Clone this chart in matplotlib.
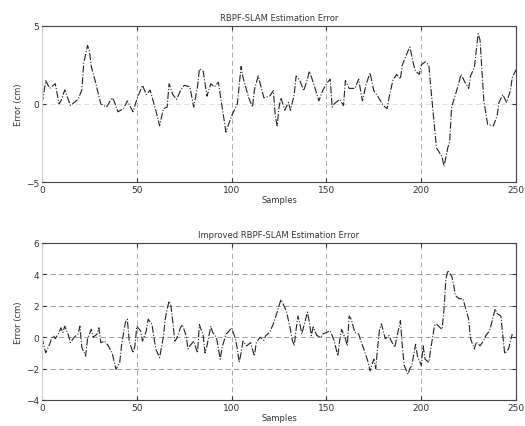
import matplotlib
matplotlib.use("Agg")
import matplotlib.pyplot as plt

# Top: RBPF-SLAM estimation error
top_x = [0, 2, 4, 6, 7, 9, 10, 12, 15, 19, 21, 22, 24, 25, 26, 28, 30, 31, 34, 37, 38, 40, 43, 45, 48,
         50, 53, 55, 57, 60, 62, 64, 66, 67, 69, 71, 73, 75, 78, 80, 82, 83, 85, 87, 89, 91, 93, 95, 97,
         100, 103, 105, 106, 109, 111, 112, 114, 117, 120, 122, 123, 124, 125, 126, 128, 130, 131, 133,
         134, 136, 138, 140, 141, 143, 146, 148, 150, 152, 153, 154, 157, 159, 160, 162, 165, 167, 168,
         169, 171, 173, 175, 177, 180, 182, 183, 185, 187, 189, 190, 193, 194, 196, 197, 199, 200, 202,
         204, 205, 207, 208, 210, 211, 212, 214, 215, 216, 218, 219, 221, 223, 225, 226, 228, 230, 231,
         233, 235, 238, 240, 241, 243, 245, 247, 248, 250]
top_y = [0.0, 1.5, 1.0, 1.2, 1.3, 0.0, 0.2, 0.9, -0.1, 0.3, 0.9, 2.6, 3.75, 3.4, 2.4, 1.5, 0.5, 0.0,
         -0.2, 0.4, 0.2, -0.5, -0.3, 0.2, -0.5, 0.3, 1.2, 0.6, 0.9, -0.4, -1.4, -0.3, -0.2, 1.3, 0.6, 0.3,
         0.85, 1.2, 1.1, -0.2, 1.1, 2.25, 2.1, 0.5, 1.3, 1.1, 1.4, -0.2, -1.8, -0.75, 0.0, 2.4, 1.7, 0.4,
         -0.2, 0.9, 1.8, 0.4, 0.5, 0.85, -0.75, -1.4, -0.2, 0.4, -0.4, 0.1, -0.4, 0.6, 1.8, 1.5, 0.85, 1.6,
         2.1, 1.4, 0.2, 0.85, 1.3, 1.6, -0.2, 0.0, 0.3, -0.1, 1.5, 1.0, 1.0, 1.6, 0.85, 0.2, 1.3, 2.0,
         0.85, 0.5, -0.1, -0.3, 0.4, 1.5, 1.9, 1.6, 2.5, 3.4, 3.65, 2.5, 2.1, 1.9, 2.5, 2.7, 2.5, 1.1, -1.5,
         -2.8, -3.2, -3.4, -4.0, -2.8, -2.4, -0.2, 0.6, 1.0, 1.9, 1.4, 1.0, 1.8, 2.35, 4.5, 4.1, 0.2,
         -1.3, -1.4, -0.75, 0.1, 0.6, 0.1, 0.85, 1.7, 2.2]

# Bottom: Improved RBPF-SLAM estimation error
bot_x = [0, 1, 2, 4, 5, 6, 7, 9, 10, 11,
         12, 14, 15, 17, 19, 20, 21, 23, 24, 26,
         27, 29, 30, 31, 33, 35, 37, 39, 41, 42,
         44, 45, 46, 48, 49, 50, 52, 53, 55, 56,
         58, 60, 62, 64, 65, 66, 67, 68, 69, 70,
         71, 73, 74, 76, 77, 78, 80, 82, 83, 85,
         86, 87, 89, 90, 92, 94, 95, 97, 98, 100,
         102, 103, 104, 105, 106, 108, 110, 112, 113, 115,
         117, 118, 120, 122, 124, 125, 126, 128, 129, 131,
         132, 133, 134, 135, 136, 137, 139, 140, 141, 142,
         143, 145, 147, 148, 150, 152, 154, 156, 157, 158,
         160, 161, 162, 163, 165, 167, 168, 170, 172, 173,
         175, 176, 177, 178, 179, 181, 183, 184, 186, 188,
         189, 190, 191, 193, 194, 195, 197, 198, 200, 201,
         202, 204, 205, 207, 208, 210, 211, 212, 213, 214,
         215, 216, 217, 218, 220, 222, 223, 225, 226, 228,
         229, 231, 233, 234, 236, 237, 239, 240, 242, 243,
         244, 246, 248]
bot_y = [0.0, -0.55, -1.0, -0.45, -0.1, 0.1, -0.1, 0.3, 0.6, 0.3,
         0.7, 0.1, -0.35, 0.0, 0.2, 0.7, -0.65, -1.2, -0.1, 0.5,
         0.0, 0.2, 0.6, -0.35, -0.25, -0.55, -1.0, -2.05, -1.6, -0.45,
         0.95, 1.15, -0.25, -1.0, -0.55, 0.7, 0.4, -0.25, 0.4, 1.15,
         0.8, -0.75, -1.3, 0.0, 1.15, 1.8, 2.3, 2.0, 0.95, -0.25,
         -0.1, 0.6, 0.8, 0.1, -0.75, -0.55, -0.25, -1.0, 0.8, 0.1,
         -1.0, -0.55, 0.7, 0.3, 0.0, -1.4, -0.65, 0.2, 0.3, 0.6,
         -0.1, -0.75, -1.6, -1.0, -0.25, -0.55, -0.35, -1.2, -0.35, 0.0,
         -0.2, 0.1, 0.3, 0.85, 1.6, 2.0, 2.4, 1.9, 1.6, 0.5,
         -0.2, -0.55, 0.5, 1.35, 0.85, 0.2, 1.15, 1.6, 0.95, 0.1,
         0.65, 0.1, 0.0, 0.2, 0.3, 0.4, -0.2, -1.2, -0.2, 0.5,
         -0.1, -0.55, 1.35, 1.15, 0.3, 0.2, -0.2, -0.85, -1.6, -2.15,
         -1.4, -2.0, -0.65, 0.5, 0.85, -0.1, 0.1, -0.2, -0.65, 0.5,
         1.05, -0.55, -1.8, -2.35, -2.0, -1.8, -0.45, -1.2, -1.8, -0.55,
         -1.4, -1.6, -0.75, 0.75, 0.85, 0.6, 0.5, 1.8, 3.7, 4.25,
         4.05, 3.9, 3.4, 2.65, 2.45, 2.45, 2.0, 1.15, -0.1, -0.75,
         -0.3, -0.55, -0.2, 0.1, 0.4, 0.85, 1.8, 1.5, 1.35, 0.1,
         -1.05, -0.75, 0.2]

x_ticks = [0, 50, 100, 150, 200, 250]
top_yticks = [-5, 0, 5]
bot_yticks = [-4, -2, 0, 2, 4, 6]

fig = plt.figure(figsize=(5.25, 4.27), dpi=100)
ax1 = fig.add_axes([0.080, 0.5714, 0.903, 0.3654])
ax2 = fig.add_axes([0.080, 0.0609, 0.903, 0.3677])

text_color = "#333333"

def style(ax, yticks, ylim, title, ygrid_color):
    ax.set_xlim(0, 250)
    ax.set_ylim(*ylim)
    ax.set_xticks(x_ticks)
    ax.set_yticks(yticks)
    ax.grid(True, axis="x", linestyle=(0, (6, 4)), color="#9a9a9a", linewidth=0.6)
    ax.grid(True, axis="y", linestyle=(0, (6, 4)), color=ygrid_color, linewidth=0.6)
    ax.tick_params(direction="in", length=3, labelsize=6.5, colors=text_color,
                   top=True, right=True, pad=2)
    for name, s in ax.spines.items():
        s.set_color("#cfcfcf" if name == "left" else "#444444")
        s.set_linewidth(0.8)
    ax.set_title(title, fontsize=6, color=text_color, pad=4)
    ax.set_xlabel("Samples", fontsize=6, color=text_color, labelpad=1)
    ax.set_ylabel("Error (cm)", fontsize=6, color=text_color, labelpad=2)

ax1.plot(top_x, top_y, color="#222222", linestyle="-.", linewidth=0.8)
style(ax1, top_yticks, (-5, 5), "RBPF-SLAM Estimation Error", "#d8d8d8")

ax2.plot(bot_x, bot_y, color="#222222", linestyle="-.", linewidth=0.8)
style(ax2, bot_yticks, (-4, 6), "Improved RBPF-SLAM Estimation Error", "#8a8a8a")

fig.savefig("out.png", dpi=100)
